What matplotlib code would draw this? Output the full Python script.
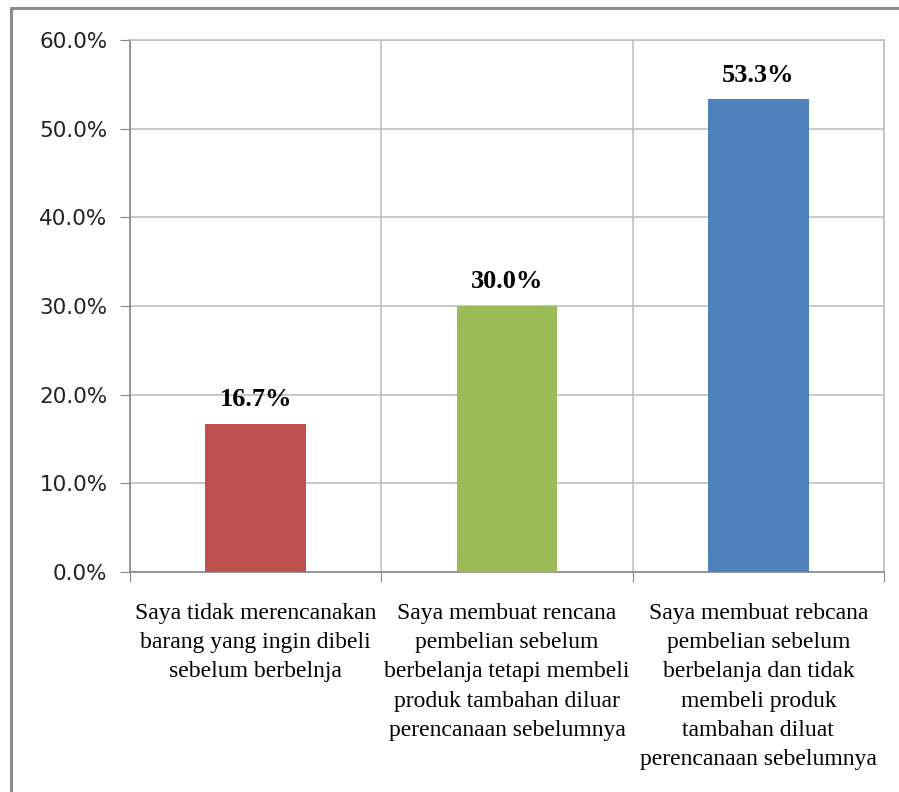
import matplotlib.pyplot as plt
from matplotlib.patches import Rectangle
import numpy as np

#%% data
categories = ['Saya tidak merencanakan\nbarang yang ingin dibeli\nsebelum berbelnja',
              'Saya membuat rencana\npembelian sebelum\nberbelanja tetapi membeli\nproduk tambahan diluar\nperencanaan sebelumnya',
              'Saya membuat rebcana\npembelian sebelum\nberbelanja dan tidak\nmembeli produk\ntambahan diluat\nperencanaan sebelumnya']
values = [16.7, 30.0, 53.3]
colors = ['#C0504D', '#9BBB59', '#4F81BD']
yticks = [0, 10, 20, 30, 40, 50, 60]

#%% figure
fig = plt.figure(figsize=(8.99, 7.92), dpi=100)
fig.patches.append(Rectangle((11/899, -0.1), 1.2, 1 - 8/792 + 0.1, transform=fig.transFigure,
                             fill=False, edgecolor='#8c8c8c', linewidth=2.2))

ax = fig.add_axes([130/899, 1 - 572/792, 754/899, 532/792])

x = np.arange(len(values))
bars = ax.bar(x, values, width=0.4, color=colors, zorder=3)

for xi, v in zip(x, values):
    ax.text(xi, v + 2.0, '%.1f%%' % v, ha='center', va='baseline',
            fontsize=19, fontweight='bold', family='Liberation Serif', zorder=4)

ax.set_xlim(-0.5, 2.5)
ax.set_ylim(0, 60)
ax.set_yticks(yticks)
ax.set_yticklabels(['%.1f%%' % t for t in yticks], fontsize=15.5, color='#222222')

# category boundaries -> vertical gridlines and tick marks
bounds = [-0.5, 0.5, 1.5, 2.5]
ax.set_xticks(bounds)
ax.set_xticklabels([])
ax.set_xticks(x, minor=True)
ax.set_xticklabels(categories, minor=True, fontsize=17, family='Liberation Serif',
                   linespacing=1.52)
ax.tick_params(axis='x', which='minor', length=0, pad=22)
ax.tick_params(axis='x', which='major', length=7, color='#868686')
ax.tick_params(axis='y', length=7, color='#868686', pad=9.3)

ax.grid(True, which='major', color='#bfbfbf', linewidth=1.2, zorder=0)
for s in ax.spines.values():
    s.set_color('#bfbfbf')
    s.set_linewidth(1.2)
ax.spines['left'].set_color('#868686')
ax.spines['bottom'].set_color('#868686')

plt.savefig('out.png')
